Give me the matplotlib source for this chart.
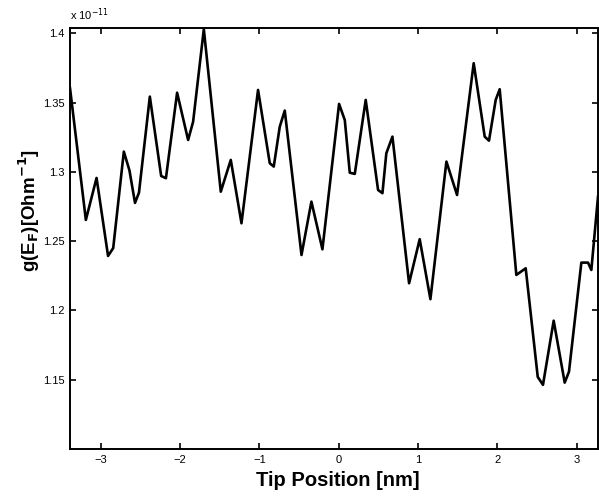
import matplotlib
matplotlib.use('Agg')
import matplotlib.pyplot as plt

# curve vertices (y in units of 1e-11 Ohm^-1)
tip_pos = [-3.39, -3.19, -3.055, -2.91, -2.845, -2.711, -2.64, -2.57, -2.52,
           -2.383, -2.24, -2.18, -2.039, -1.90, -1.837, -1.702, -1.488, -1.362,
           -1.227, -1.018, -0.87, -0.82, -0.744, -0.681, -0.47, -0.345, -0.206,
           0.004, 0.076, 0.139, 0.202, 0.34, 0.496, 0.551, 0.60, 0.677, 0.887,
           1.021, 1.156, 1.358, 1.492, 1.702, 1.841, 1.895, 1.98, 2.03, 2.24,
           2.358, 2.51, 2.576, 2.711, 2.85, 2.904, 3.06, 3.144, 3.186, 3.27]
g_ef = [1.3605, 1.2653, 1.2956, 1.2393, 1.245, 1.3146, 1.301, 1.2776, 1.285,
        1.3543, 1.297, 1.2954, 1.3571, 1.323, 1.3362, 1.4029, 1.2857, 1.3086,
        1.2629, 1.3591, 1.3062, 1.3038, 1.3326, 1.3442, 1.240, 1.2785, 1.2441,
        1.349, 1.3374, 1.2994, 1.2985, 1.3519, 1.2869, 1.2846, 1.3134, 1.3254,
        1.2196, 1.2514, 1.2081, 1.3074, 1.2833, 1.3784, 1.3254, 1.3225, 1.352,
        1.3596, 1.2256, 1.2304, 1.152, 1.1463, 1.1926, 1.1479, 1.1558, 1.2345,
        1.2345, 1.2292, 1.282]

x_ticks = [-3, -2, -1, 0, 1, 2, 3]
y_ticks = [1.15, 1.2, 1.25, 1.3, 1.35, 1.4]
y_tick_labels = ['1.15', '1.2', '1.25', '1.3', '1.35', '1.4']

plt.rcParams['font.family'] = ['Liberation Sans', 'DejaVu Sans']

W, H = 599, 496
fig = plt.figure(figsize=(W / 100, H / 100), dpi=100, facecolor='white')
ax = fig.add_axes([70 / W, 1 - 449 / H, 528 / W, 421 / H])

ax.plot(tip_pos, g_ef, color='black', linewidth=1.9)

ax.set_xlim(-3.39, 3.27)
ax.set_ylim(1.10, 1.4038)
ax.set_xticks(x_ticks)
ax.set_xticklabels(['\u22123', '\u22122', '\u22121', '0', '1', '2', '3'])
ax.set_yticks(y_ticks)
ax.set_yticklabels(y_tick_labels)
ax.tick_params(direction='in', length=4, width=1.2, top=True, right=True,
               labelsize=8, pad=4)
for sp in ax.spines.values():
    sp.set_linewidth(1.4)

fig.text(338 / W, 1 - 480 / H, 'Tip Position [nm]', ha='center', va='center',
         fontsize=14.5, fontweight='bold')
fig.text(29 / W, 1 - 210 / H, r'g(E$_\mathbf{F}$)[Ohm$^{\mathbf{-1}}$]',
         rotation=90, ha='center', va='center', fontsize=13.5, fontweight='bold')
fig.text(70 / W, 1 - 15 / H, r'x 10$^{-11}$', ha='left', va='center', fontsize=8)

fig.savefig('out.png', dpi=100, facecolor='white')
